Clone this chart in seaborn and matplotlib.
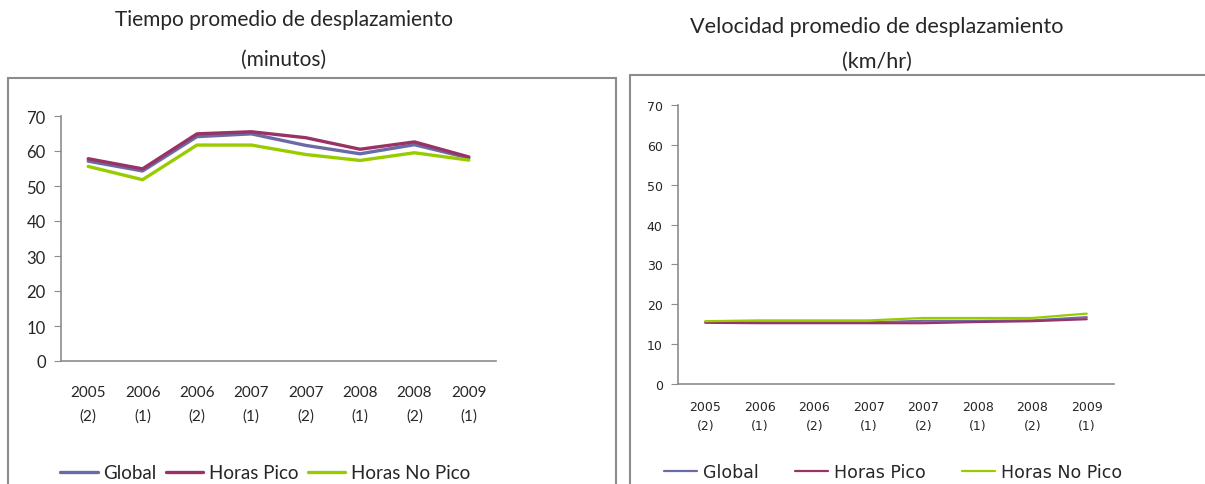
import numpy as np
import pandas as pd
import seaborn as sns
import matplotlib.pyplot as plt
from matplotlib.patches import Rectangle

periodos = ["2005\n(2)", "2006\n(1)", "2006\n(2)", "2007\n(1)",
            "2007\n(2)", "2008\n(1)", "2008\n(2)", "2009\n(1)"]
series = ["Global", "Horas Pico", "Horas No Pico"]

tiempo_global = [57.1, 54.3, 64.1, 64.9, 61.6, 59.2, 61.8, 58.0]
tiempo_pico = [57.8, 54.9, 64.9, 65.5, 63.8, 60.5, 62.6, 58.3]
tiempo_no_pico = [55.6, 51.8, 61.7, 61.7, 59.0, 57.3, 59.5, 57.4]

vel_global = [15.6, 15.5, 15.5, 15.5, 15.9, 15.9, 16.0, 16.8]
vel_pico = [15.4, 15.3, 15.3, 15.3, 15.3, 15.6, 15.8, 16.3]
vel_no_pico = [15.8, 16.0, 16.0, 16.0, 16.6, 16.6, 16.6, 17.7]

colores = {"Global": "#6a6aa6", "Horas Pico": "#993366", "Horas No Pico": "#99cc00"}


def armar(vals):
    filas = []
    for s, v in zip(series, vals):
        for i, y in enumerate(v):
            filas.append({"pos": i, "valor": y, "serie": s})
    return pd.DataFrame(filas)


df_tiempo = armar([tiempo_global, tiempo_pico, tiempo_no_pico])
df_vel = armar([vel_global, vel_pico, vel_no_pico])

sns.set_style("white")
W, H = 1205, 485
fig = plt.figure(figsize=(W / 100, H / 100), dpi=100)

# cajas de los graficos
fig.patches.append(Rectangle((8 / W, -0.1), 608 / W, (H - 79) / H + 0.1,
                             transform=fig.transFigure, fill=False,
                             edgecolor="#8c8c8c", lw=1.5))
fig.patches.append(Rectangle((630 / W, -0.1), 600 / W, (H - 76) / H + 0.1,
                             transform=fig.transFigure, fill=False,
                             edgecolor="#8c8c8c", lw=1.5))

ax1 = fig.add_axes([61 / W, (H - 362) / H, 435 / W, 245 / H])
ax2 = fig.add_axes([678 / W, (H - 385.3) / H, 436 / W, 279.6 / H])


def estilo(ax, df, lw, fam, fs_y, fs_x, pad_x, lsp, fs_leg, leg_xy, hl, htp, colsp):
    sns.lineplot(data=df, x="pos", y="valor", hue="serie", palette=colores,
                 linewidth=lw, ax=ax, legend=True)
    ax.set_xlim(-0.5, 7.5)
    ax.set_ylim(0, 70)
    ax.set_yticks(range(0, 71, 10))
    ax.set_xticks(range(8))
    ax.set_xticklabels(periodos, family=fam, fontsize=fs_x, linespacing=lsp)
    ax.set_xticks(np.arange(-0.5, 8, 1), minor=True)
    ax.tick_params(axis="x", which="major", length=0, pad=pad_x)
    ax.tick_params(axis="x", which="minor", length=5, color="#8c8c8c", direction="out")
    ax.tick_params(axis="y", length=5, color="#8c8c8c", direction="out", left=True, pad=6)
    for t in ax.get_yticklabels():
        t.set_family(fam)
        t.set_fontsize(fs_y)
    ax.set_xlabel("")
    ax.set_ylabel("")
    for s in ["top", "right"]:
        ax.spines[s].set_visible(False)
    for s in ["left", "bottom"]:
        ax.spines[s].set_color("#8c8c8c")
        ax.spines[s].set_linewidth(1.2)
    ax.legend(loc="center", bbox_to_anchor=leg_xy, bbox_transform=fig.transFigure,
              ncol=3, frameon=False, prop={"family": fam, "size": fs_leg},
              handlelength=hl, handletextpad=htp, columnspacing=colsp)


estilo(ax1, df_tiempo, 2.4, "Lato", 12, 11, 17, 1.85, 13.5,
       (265 / W, (H - 474) / H), 2.0, 0.27, 0.53)
estilo(ax2, df_vel, 1.6, "DejaVu Sans", 9, 9, 11, 1.6, 12.5,
       (893 / W, (H - 473) / H), 1.9, 0.35, 2.1)

fig.text(284 / W, (H - 20) / H, "Tiempo promedio de desplazamiento",
         ha="center", va="center", family="Lato", fontsize=15)
fig.text(284 / W, (H - 60) / H, "(minutos)",
         ha="center", va="center", family="Lato", fontsize=15)
fig.text(877 / W, (H - 27) / H, "Velocidad promedio de desplazamiento",
         ha="center", va="center", family="Lato", fontsize=15.6)
fig.text(877 / W, (H - 62) / H, "(km/hr)",
         ha="center", va="center", family="Lato", fontsize=15.6)

plt.savefig("out.png", dpi=100)
